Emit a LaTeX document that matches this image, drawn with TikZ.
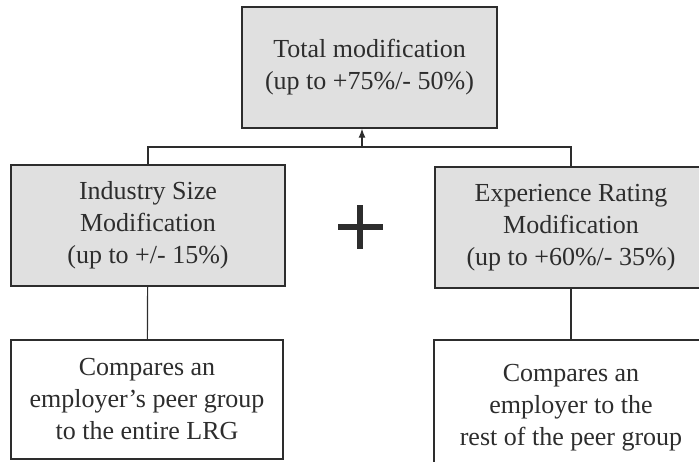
\documentclass[tikz,border=0pt]{standalone}
\usepackage{fontspec}
\setmainfont{Liberation Serif}
\usepackage{xcolor}
\usepackage{tikz}
\usetikzlibrary{arrows.meta}

\definecolor{boxgray}{RGB}{224,224,224}
\definecolor{inkgray}{RGB}{45,45,45}

\begin{document}
\begin{tikzpicture}[x=0.5pt,y=-0.5pt]
				\tikzstyle{modbox}=[draw=inkgray, fill=boxgray, line width=0.7pt, align=center, text=inkgray, inner sep=0pt]
				\tikzstyle{notebox}=[draw=inkgray, fill=white, line width=0.7pt, align=center, text=inkgray, inner sep=0pt]
				\tikzset{edge/.style = {draw=inkgray, line width=0.6pt}}
				\tikzset{every node/.style = {font=\fontsize{13}{16}\selectfont}}
				
				\useasboundingbox (0,0) rectangle (699,461);
				\clip (0,0) rectangle (699,461);
				
				% total
				\node[modbox, minimum width=127.5pt, minimum height=60.5pt](total) at (369.5,67.5) {Total modification\\(up to +75\%/- 50\%)};
				\coordinate (join) at (362,147);
				
				% modifications
				\node[modbox, minimum width=137pt, minimum height=60.5pt](industry) at (148,225.5) {Industry Size\\Modification\\(up to +/- 15\%)};
				\node[modbox, minimum width=136pt, minimum height=60.5pt](experience) at (571,227.5) {Experience Rating\\Modification\\(up to +60\%/- 35\%)};
				
				% descriptions
				\node[notebox, minimum width=136pt, minimum height=59.5pt](cmpleft) at (147,399.5) {Compares an\\employer's peer group\\to the entire LRG};
				\node[notebox, minimum width=137pt, minimum height=68pt](cmpright) at (571,408) {Compares an\\employer to the\\rest of the peer group};
				
				% connectors
				\draw[edge](industry.north) |- (join) -| (experience.north);
				\draw[edge, -{Latex[length=4.5pt,width=3.5pt]}](join) -- (join |- total.south);
				\draw[edge](industry) -- (cmpleft);
				\draw[edge](experience) -- (cmpright);
				
				% plus sign
				\draw[draw=inkgray, line width=3pt] (338,227) -- (383,227);
				\draw[draw=inkgray, line width=3pt] (360,205) -- (360,249);
			\end{tikzpicture}
\end{document}
